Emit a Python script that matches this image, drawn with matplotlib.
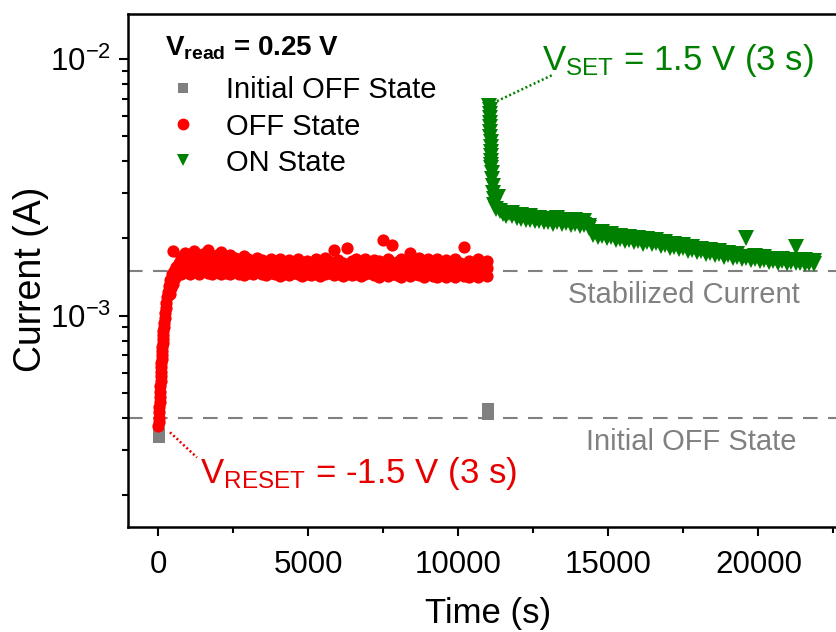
import matplotlib
matplotlib.use("Agg")
import matplotlib.pyplot as plt
from matplotlib.ticker import FixedLocator, MultipleLocator, LogLocator, NullFormatter, FixedFormatter

plt.rcParams['font.family'] = ['Liberation Sans', 'DejaVu Sans']
plt.rcParams['mathtext.fontset'] = 'custom'
plt.rcParams['mathtext.rm'] = 'Liberation Sans'
plt.rcParams['mathtext.default'] = 'regular'

# ---- data (time in s, current in units of 1e-5 A) ----
init_off_t = [30, 30, 10980, 10980, 10980]
init_off_i = [33.5, 34.5, 41.3, 42.2, 43.2]

# OFF state: fast recovery right after the RESET pulse
off_rise_t = [0, 8, 15, 22, 30, 38, 45, 52, 60, 68, 75, 82, 90, 98, 105, 112,
              120, 128, 135, 145, 155, 165, 175, 190, 205, 220, 240, 260, 285,
              310, 340, 370, 400, 430, 460, 475, 500, 530, 560, 600, 640, 680, 720]
off_rise_i = [37, 38.5, 40, 42, 44, 46, 48, 50.5, 53, 55.5, 58, 60.5, 63, 65.5, 68, 70.5,
              73, 75.5, 78, 81, 84, 87, 90, 94, 98, 102, 107, 112, 118,
              124, 130, 122, 138, 128, 145, 178, 133, 150, 140, 155, 146, 160, 150]

# OFF state plateau, three readings per time stamp
off_t = [750, 900, 1050, 1200, 1350, 1500, 1650, 1800, 1950, 2100,
         2250, 2400, 2550, 2700, 2850, 3000, 3150, 3300, 3450, 3600,
         3750, 3900, 4050, 4200, 4350, 4500, 4650, 4800, 4950, 5100,
         5250, 5400, 5550, 5700, 5850, 6000, 6150, 6300, 6450, 6600,
         6750, 6900, 7050, 7200, 7350, 7500, 7650, 7800, 7950, 8100,
         8250, 8400, 8550, 8700, 8850, 9000, 9150, 9300, 9450, 9600,
         9750, 9900, 10050, 10200, 10350, 10500, 10650, 10800, 10950]
off_i_hi = [170, 176, 168, 178, 165, 174, 180, 167, 172, 177,
            166, 173, 168, 164, 171, 166, 162, 168, 165, 161,
            167, 163, 166, 160, 165, 162, 167, 161, 164, 160,
            166, 162, 168, 163, 180, 165, 161, 184, 163, 167,
            162, 166, 161, 165, 163, 198, 166, 189, 162, 167,
            164, 176, 163, 168, 161, 166, 162, 167, 160, 165,
            162, 166, 161, 186, 163, 160, 166, 161, 164]
off_i_mid = [156, 160, 154, 158, 155, 161, 157, 155, 159, 156,
             154, 158, 155, 157, 153, 156, 154, 157, 152, 155,
             153, 156, 152, 155, 153, 151, 154, 156, 152, 155,
             153, 151, 155, 152, 154, 156, 152, 155, 153, 151,
             154, 152, 155, 153, 151, 154, 152, 155, 153, 151,
             154, 152, 150, 153, 151, 154, 152, 150, 153, 151,
             153, 150, 152, 151, 153, 150, 152, 151, 153]
off_i_lo = [146, 149, 145, 148, 146, 150, 147, 145, 148, 146,
            147, 145, 148, 146, 144, 147, 145, 148, 146, 144,
            147, 145, 143, 146, 144, 147, 145, 143, 146, 144,
            146, 143, 145, 147, 144, 146, 143, 145, 144, 146,
            143, 145, 147, 144, 142, 145, 143, 146, 144, 142,
            145, 143, 146, 144, 142, 145, 143, 141, 144, 142,
            144, 142, 145, 143, 141, 144, 142, 145, 143]

# ON state: decay right after the SET pulse
on_drop_t = [11030, 11035, 11040, 11045, 11050, 11055, 11060, 11065, 11070, 11075,
             11080, 11085, 11090, 11095, 11100, 11110, 11120, 11135, 11150, 11170,
             11200, 11250, 11320, 11400, 11500, 11600, 11700]
on_drop_i = [655, 635, 612, 590, 566, 545, 520, 498, 476, 455,
             436, 418, 402, 388, 375, 360, 340, 320, 300, 285,
             270, 260, 290, 255, 250, 245, 252]

# ON state slow relaxation, two readings per time stamp
on_t = [11800, 11950, 12100, 12250, 12400, 12550, 12700, 12850, 13000, 13150,
        13300, 13450, 13600, 13750, 13900, 14050, 14200, 14350, 14500, 14650,
        14800, 14950, 15100, 15250, 15400, 15550, 15700, 15850, 16000, 16150,
        16300, 16450, 16600, 16750, 16900, 17050, 17200, 17350, 17500, 17650,
        17800, 17950, 18100, 18250, 18400, 18550, 18700, 18850, 19000, 19150,
        19300, 19450, 19600, 19750, 19900, 20050, 20200, 20350, 20500, 20650,
        20800, 20950, 21100, 21250, 21400, 21550, 21700, 21850]
on_i_a = [252, 243, 247, 240, 245, 236, 241, 234, 239, 231,
          240, 232, 237, 229, 235, 227, 233, 224, 212, 206,
          211, 203, 209, 200, 205, 199, 203, 197, 201, 196,
          199, 194, 197, 191, 194, 188, 191, 185, 188, 182,
          185, 179, 182, 177, 180, 175, 178, 173, 176, 171,
          174, 169, 200, 167, 171, 165, 169, 164, 167, 162,
          166, 161, 165, 186, 162, 165, 161, 164]
on_i_b = [244, 240, 238, 237, 236, 234, 233, 231, 232, 228,
          231, 228, 230, 225, 227, 223, 225, 220, 207, 203,
          205, 200, 202, 197, 199, 195, 197, 193, 195, 191,
          193, 190, 192, 187, 189, 184, 186, 182, 184, 179,
          181, 177, 179, 174, 176, 172, 174, 170, 172, 168,
          170, 167, 168, 165, 167, 163, 165, 162, 164, 161,
          163, 160, 162, 160, 161, 159, 161, 159]

stabilized_level = 1.5e-3
initial_off_level = 4.0e-4

SCALE = 1e-5


def amps(vals):
    return [v * SCALE for v in vals]


RED = '#FF0000'
GREEN = '#008000'
GRAY = '#808080'
TEXT_RED = '#E60000'

fig = plt.figure(figsize=(8.37, 6.32), dpi=100)
ax = fig.add_axes([128.5 / 837, 105 / 632, 720 / 837, 513 / 632])

ax.set_yscale('log')
ax.set_xlim(-1000, 23000)
ax.set_ylim(1.5e-4, 1.5e-2)

# reference levels
ax.axhline(stabilized_level, color=GRAY, lw=1.5, dashes=(7, 5), zorder=1)
ax.axhline(initial_off_level, color=GRAY, lw=1.5, dashes=(7, 5), zorder=1)

# measured currents
off_all_t = off_rise_t + off_t + off_t + off_t
off_all_i = off_rise_i + off_i_lo + off_i_mid + off_i_hi
on_all_t = on_drop_t + on_t + on_t
on_all_i = on_drop_i + on_i_a + on_i_b

ax.plot(init_off_t, amps(init_off_i), 's', color=GRAY, ms=8, mew=0, zorder=2)
ax.plot(off_all_t, amps(off_all_i), 'o', color=RED, ms=8.8, mew=0, zorder=3)
ax.plot(on_all_t, amps(on_all_i), 'v', color=GREEN, ms=11, mew=0, zorder=3)

# annotations
ax.text(17500, 1.204e-3, 'Stabilized Current', color=GRAY, fontsize=21,
        ha='center', va='center')
ax.text(17750, 3.218e-4, 'Initial OFF State', color=GRAY, fontsize=21,
        ha='center', va='center')
ax.text(1383, 2.23e-4, 'V$_{RESET}$ = -1.5 V (3 s)', color=TEXT_RED, fontsize=25,
        ha='left', va='baseline')
ax.text(12783, 9.08e-3, 'V$_{SET}$ = 1.5 V (3 s)', color=GREEN, fontsize=25,
        ha='left', va='baseline')
ax.plot([383, 1283], [3.51e-4, 2.8e-4], color=TEXT_RED, lw=1.8, dashes=(0.8, 1.0), zorder=4)
ax.plot([11283, 13117], [6.86e-3, 8.66e-3], color=GREEN, lw=1.8, dashes=(0.8, 1.0), zorder=4)

# legend block
ax.text(0.0507, 0.920, 'V$_{read}$ = 0.25 V', transform=ax.transAxes, fontsize=20,
        fontweight='bold', ha='left', va='baseline')
legend_rows = [('Initial OFF State', 's', GRAY, 7.5),
               ('OFF State', 'o', RED, 8.5),
               ('ON State', 'v', GREEN, 8)]
row_y = [0.8353, 0.7651, 0.6949]
for (label, marker, color, size), yb in zip(legend_rows, row_y):
    ax.plot([0.0757], [yb + 0.0205], marker, color=color, ms=size, mew=0,
            transform=ax.transAxes, clip_on=False)
    ax.text(0.1354, yb, label, transform=ax.transAxes, fontsize=21,
            ha='left', va='baseline')

# axes styling
for side in ('left', 'bottom', 'top', 'right'):
    ax.spines[side].set_linewidth(1.8)

ax.xaxis.set_major_locator(MultipleLocator(5000))
ax.xaxis.set_minor_locator(MultipleLocator(2500))
ax.yaxis.set_major_locator(FixedLocator([1e-3, 1e-2]))
ax.yaxis.set_major_formatter(FixedFormatter(['10$^{-3}$', '10$^{-2}$']))
ax.yaxis.set_minor_locator(LogLocator(base=10, subs=range(2, 10)))
ax.yaxis.set_minor_formatter(NullFormatter())

ax.tick_params(which='both', direction='out', top=False, right=False, width=1.5)
ax.tick_params(which='major', length=6.5, labelsize=22.5, pad=6)
ax.tick_params(axis='x', which='major', pad=10)
ax.tick_params(which='minor', length=4)

ax.set_xlabel('Time (s)', fontsize=25, labelpad=12)
ax.set_ylabel('Current (A)', fontsize=27)
ax.yaxis.set_label_coords(-0.11, 0.482)

fig.savefig('out.png', dpi=100)
